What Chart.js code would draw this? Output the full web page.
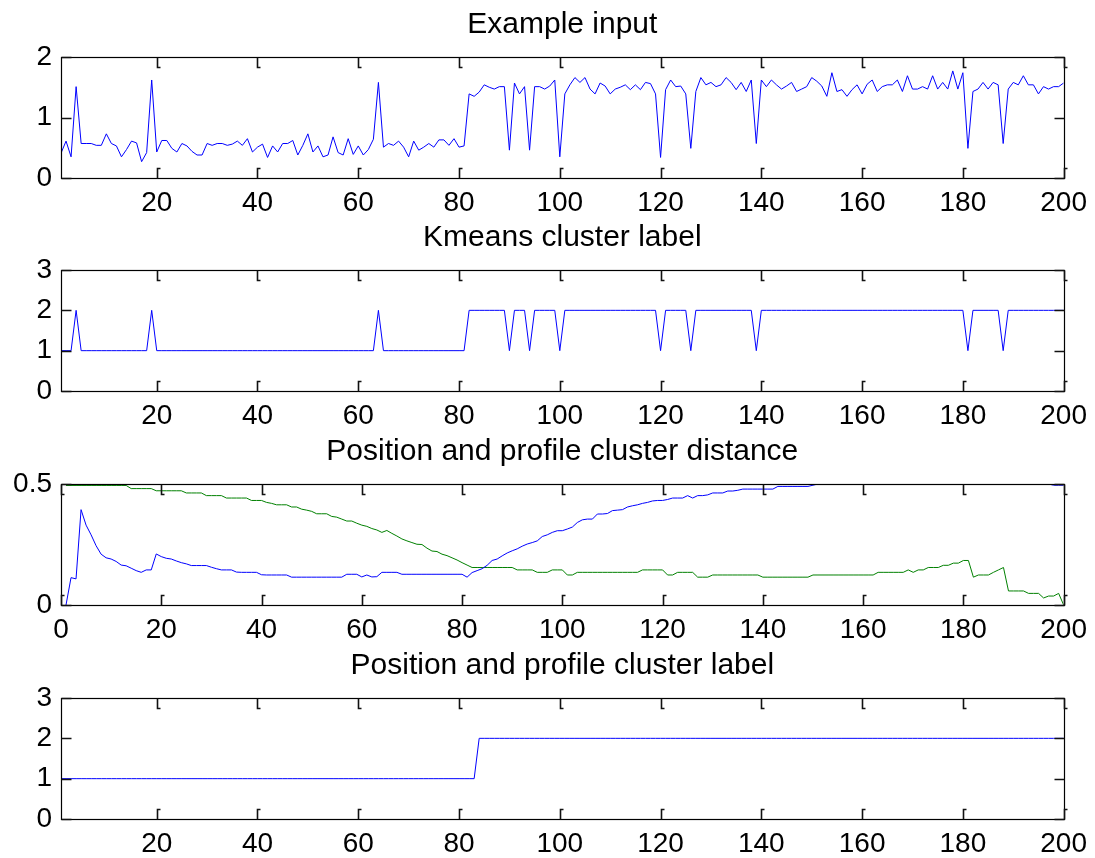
<!DOCTYPE html>
<html>
<head>
<meta charset="utf-8">
<script src="https://cdn.jsdelivr.net/npm/chart.js@4.4.1/dist/chart.umd.min.js"></script>
<style>
  html, body { margin: 0; padding: 0; background: #fff; }
  body { width: 1095px; height: 858px; position: relative; overflow: hidden; }
  canvas { position: absolute; left: 0; }
</style>
</head>
<body>
<canvas id="c1" width="1095" height="214" style="top:0px"></canvas>
<canvas id="c2" width="1095" height="214" style="top:213px"></canvas>
<canvas id="c3" width="1095" height="214" style="top:427px"></canvas>
<canvas id="c4" width="1095" height="214" style="top:641px"></canvas>
<script>
// ---------------- DATA ----------------
const titles = ["Example input", "Kmeans cluster label", "Position and profile cluster distance", "Position and profile cluster label"];
const sampleIndex = Array.from({length: 200}, (_, i) => i + 1);

const xTicksIdx = [20, 40, 60, 80, 100, 120, 140, 160, 180, 200];
const xTicksDist = [0, 20, 40, 60, 80, 100, 120, 140, 160, 180, 200];
const yTicksInput = [0, 1, 2];
const yTicksLabel = [0, 1, 2, 3];
const yTicksDist = [0, 0.5];

const exampleInput = [
  0.41,0.61,0.35,1.51,0.57,0.57,0.57,0.54,0.54,0.73,0.57,0.53,0.35,0.47,0.61,0.58,0.27,0.42,1.62,0.43,
  0.62,0.62,0.49,0.43,0.57,0.53,0.44,0.38,0.38,0.57,0.54,0.57,0.57,0.54,0.56,0.61,0.54,0.65,0.43,0.51,
  0.56,0.34,0.53,0.43,0.57,0.57,0.62,0.38,0.54,0.73,0.43,0.53,0.35,0.38,0.68,0.42,0.38,0.65,0.39,0.53,
  0.38,0.47,0.64,1.58,0.51,0.57,0.54,0.61,0.51,0.35,0.61,0.46,0.51,0.57,0.51,0.63,0.63,0.54,0.65,0.51,
  0.53,1.39,1.35,1.42,1.54,1.50,1.47,1.51,1.51,0.46,1.57,1.39,1.51,0.46,1.51,1.51,1.47,1.52,1.62,0.35,
  1.39,1.54,1.66,1.58,1.66,1.47,1.39,1.57,1.52,1.39,1.47,1.50,1.54,1.46,1.54,1.46,1.58,1.56,1.39,0.34,
  1.46,1.62,1.51,1.52,1.39,0.49,1.43,1.66,1.54,1.58,1.51,1.54,1.66,1.58,1.46,1.58,1.43,1.62,0.57,1.62,
  1.51,1.62,1.54,1.47,1.52,1.58,1.43,1.47,1.51,1.66,1.60,1.52,1.35,1.74,1.43,1.46,1.35,1.46,1.54,1.39,
  1.55,1.62,1.43,1.51,1.54,1.54,1.62,1.43,1.69,1.47,1.47,1.51,1.47,1.69,1.47,1.58,1.47,1.77,1.47,1.74,
  0.49,1.43,1.47,1.58,1.47,1.58,1.54,0.57,1.47,1.58,1.54,1.69,1.54,1.54,1.39,1.51,1.47,1.51,1.51,1.57
];

const kmeansLabel = [
  1,1,1,2,1,1,1,1,1,1,1,1,1,1,1,1,1,1,2,1,
  1,1,1,1,1,1,1,1,1,1,1,1,1,1,1,1,1,1,1,1,
  1,1,1,1,1,1,1,1,1,1,1,1,1,1,1,1,1,1,1,1,
  1,1,1,2,1,1,1,1,1,1,1,1,1,1,1,1,1,1,1,1,
  1,2,2,2,2,2,2,2,2,1,2,2,2,1,2,2,2,2,2,1,
  2,2,2,2,2,2,2,2,2,2,2,2,2,2,2,2,2,2,2,1,
  2,2,2,2,2,1,2,2,2,2,2,2,2,2,2,2,2,2,1,2,
  2,2,2,2,2,2,2,2,2,2,2,2,2,2,2,2,2,2,2,2,
  2,2,2,2,2,2,2,2,2,2,2,2,2,2,2,2,2,2,2,2,
  1,2,2,2,2,2,2,1,2,2,2,2,2,2,2,2,2,2,2,2
];

const distCluster1 = [
  0,0.113,0.108,0.394,0.33,0.29,0.245,0.21,0.195,0.19,0.18,0.165,0.162,0.152,0.142,0.135,0.145,0.145,0.211,0.2,
  0.193,0.19,0.182,0.175,0.17,0.163,0.163,0.163,0.163,0.156,0.15,0.145,0.145,0.145,0.136,0.135,0.135,0.135,0.135,0.125,
  0.124,0.124,0.124,0.124,0.124,0.115,0.115,0.115,0.115,0.115,0.115,0.115,0.115,0.115,0.115,0.115,0.127,0.127,0.127,0.116,
  0.124,0.116,0.117,0.135,0.135,0.135,0.135,0.127,0.127,0.127,0.127,0.127,0.127,0.127,0.127,0.127,0.127,0.127,0.127,0.127,
  0.115,0.134,0.142,0.15,0.164,0.184,0.19,0.203,0.215,0.224,0.232,0.243,0.252,0.258,0.265,0.283,0.29,0.3,0.307,0.307,
  0.314,0.322,0.341,0.352,0.355,0.355,0.376,0.376,0.378,0.39,0.392,0.394,0.405,0.41,0.414,0.42,0.424,0.43,0.432,0.432,
  0.436,0.442,0.442,0.442,0.452,0.442,0.452,0.452,0.455,0.463,0.463,0.463,0.471,0.471,0.474,0.479,0.479,0.479,0.479,0.479,
  0.479,0.479,0.49,0.49,0.49,0.49,0.49,0.49,0.49,0.495,0.5,0.5,0.5,0.5,0.5,0.5,0.5,0.5,0.5,0.5,
  0.5,0.5,0.5,0.5,0.5,0.5,0.5,0.5,0.5,0.5,0.5,0.5,0.5,0.5,0.5,0.5,0.5,0.5,0.5,0.5,
  0.5,0.5,0.5,0.5,0.5,0.5,0.5,0.5,0.5,0.5,0.5,0.5,0.5,0.5,0.5,0.5,0.5,0.495,0.495,0.495
];

const distCluster2 = [
  0.494,0.494,0.494,0.494,0.494,0.494,0.494,0.494,0.494,0.494,0.494,0.494,0.494,0.481,0.481,0.481,0.481,0.481,0.472,0.472,
  0.472,0.472,0.472,0.472,0.463,0.463,0.463,0.463,0.452,0.452,0.452,0.452,0.442,0.442,0.442,0.442,0.442,0.432,0.432,0.432,
  0.424,0.42,0.414,0.414,0.414,0.405,0.405,0.396,0.392,0.387,0.377,0.377,0.377,0.366,0.363,0.355,0.347,0.347,0.338,0.33,
  0.325,0.316,0.31,0.3,0.308,0.296,0.285,0.273,0.265,0.258,0.251,0.25,0.235,0.223,0.221,0.21,0.204,0.195,0.186,0.175,
  0.165,0.155,0.155,0.155,0.155,0.155,0.155,0.155,0.155,0.155,0.145,0.145,0.145,0.145,0.135,0.135,0.135,0.145,0.145,0.145,
  0.124,0.124,0.135,0.135,0.135,0.135,0.135,0.135,0.135,0.135,0.135,0.135,0.135,0.135,0.135,0.145,0.145,0.145,0.145,0.145,
  0.124,0.124,0.135,0.135,0.135,0.135,0.115,0.115,0.115,0.124,0.124,0.124,0.124,0.124,0.124,0.124,0.124,0.124,0.124,0.115,
  0.115,0.115,0.115,0.115,0.115,0.115,0.115,0.115,0.115,0.124,0.124,0.124,0.124,0.124,0.124,0.124,0.124,0.124,0.124,0.124,
  0.124,0.124,0.135,0.135,0.135,0.135,0.135,0.135,0.145,0.135,0.145,0.145,0.155,0.155,0.155,0.164,0.164,0.173,0.173,0.184,
  0.184,0.115,0.124,0.124,0.124,0.135,0.145,0.155,0.058,0.058,0.058,0.058,0.048,0.048,0.048,0.029,0.037,0.037,0.048,0
];

const profileLabel = [
  1,1,1,1,1,1,1,1,1,1,1,1,1,1,1,1,1,1,1,1,
  1,1,1,1,1,1,1,1,1,1,1,1,1,1,1,1,1,1,1,1,
  1,1,1,1,1,1,1,1,1,1,1,1,1,1,1,1,1,1,1,1,
  1,1,1,1,1,1,1,1,1,1,1,1,1,1,1,1,1,1,1,1,
  1,1,1,2,2,2,2,2,2,2,2,2,2,2,2,2,2,2,2,2,
  2,2,2,2,2,2,2,2,2,2,2,2,2,2,2,2,2,2,2,2,
  2,2,2,2,2,2,2,2,2,2,2,2,2,2,2,2,2,2,2,2,
  2,2,2,2,2,2,2,2,2,2,2,2,2,2,2,2,2,2,2,2,
  2,2,2,2,2,2,2,2,2,2,2,2,2,2,2,2,2,2,2,2,
  2,2,2,2,2,2,2,2,2,2,2,2,2,2,2,2,2,2,2,2
];

// ---------------- RENDER ----------------
Chart.defaults.font.family = "'Liberation Sans', Arial, Helvetica, sans-serif";
Chart.defaults.color = '#000';
Chart.defaults.animation = false;

const BLUE = '#0000ff';
const GREEN = '#008000';

const matlabFrame = {
  id: 'matlabFrame',
  afterDatasetsDraw(chart) {
    const ctx = chart.ctx;
    const area = chart.chartArea;
    const sx = chart.scales.x, sy = chart.scales.y;
    const L = 10, F = 3;
    const l = Math.round(area.left) + 0.5, r = Math.round(area.right) + 0.5;
    const t = Math.round(area.top) + 0.5, b = Math.round(area.bottom) + 0.5;
    ctx.save();
    ctx.strokeStyle = '#000';
    ctx.lineWidth = 1.2;
    ctx.strokeRect(l, t, r - l, b - t);
    ctx.lineWidth = 1.6;
    ctx.strokeStyle = '#111';
    ctx.beginPath();
    sx.ticks.forEach(tk => {
      const px = Math.round(sx.getPixelForValue(tk.value)) + 0.5;
      ctx.moveTo(px, t); ctx.lineTo(px, t + L); ctx.lineTo(px + F, t + L);
      ctx.moveTo(px, b); ctx.lineTo(px, b - L); ctx.lineTo(px + F, b - L);
    });
    sy.ticks.forEach(tk => {
      const py = Math.round(sy.getPixelForValue(tk.value)) + 0.5;
      ctx.moveTo(l, py); ctx.lineTo(l + L, py);
      ctx.moveTo(r, py); ctx.lineTo(r - L, py);
    });
    ctx.stroke();
    ctx.restore();
  }
};

function pts(xs, ys) { return ys.map((v, i) => ({x: xs[i], y: v})); }

function makeChart(id, title, datasets, xMin, xTicks, yMax, yTicks) {
  return new Chart(document.getElementById(id), {
    type: 'line',
    data: {datasets: datasets.map(d => ({
      data: pts(sampleIndex, d.values),
      borderColor: d.color,
      borderWidth: 1,
      pointRadius: 0,
      tension: 0,
      fill: false
    }))},
    options: {
      responsive: false,
      devicePixelRatio: 1,
      animation: false,
      events: [],
      layout: {padding: {left: 0, right: 30, top: 0, bottom: 0}},
      plugins: {
        legend: {display: false},
        tooltip: {enabled: false},
        title: {
          display: true,
          fullSize: false,
          text: title,
          font: {size: 30, weight: 'normal'},
          lineHeight: 1.2,
          padding: {top: 7, bottom: 14},
          color: '#000'
        }
      },
      scales: {
        x: {
          type: 'linear',
          min: xMin, max: 200,
          afterBuildTicks: s => { s.ticks = xTicks.map(v => ({value: v})); },
          afterFit: s => { s.height = 36; },
          grid: {display: false, drawTicks: false},
          border: {display: false},
          ticks: {padding: 8, font: {size: 28}, maxRotation: 0, autoSkip: false, color: '#000'}
        },
        y: {
          type: 'linear',
          min: 0, max: yMax,
          afterBuildTicks: s => { s.ticks = yTicks.map(v => ({value: v})); },
          afterFit: s => { s.width = 61; },
          grid: {display: false, drawTicks: false},
          border: {display: false},
          ticks: {padding: 9, font: {size: 28}, autoSkip: false, color: '#000'}
        }
      }
    },
    plugins: [matlabFrame]
  });
}

makeChart('c1', titles[0], [{values: exampleInput, color: BLUE}], 1, xTicksIdx, 2, yTicksInput);
makeChart('c2', titles[1], [{values: kmeansLabel, color: BLUE}], 1, xTicksIdx, 3, yTicksLabel);
makeChart('c3', titles[2], [{values: distCluster1, color: BLUE}, {values: distCluster2, color: GREEN}], 0, xTicksDist, 0.5, yTicksDist);
makeChart('c4', titles[3], [{values: profileLabel, color: BLUE}], 1, xTicksIdx, 3, yTicksLabel);
</script>
</body>
</html>
